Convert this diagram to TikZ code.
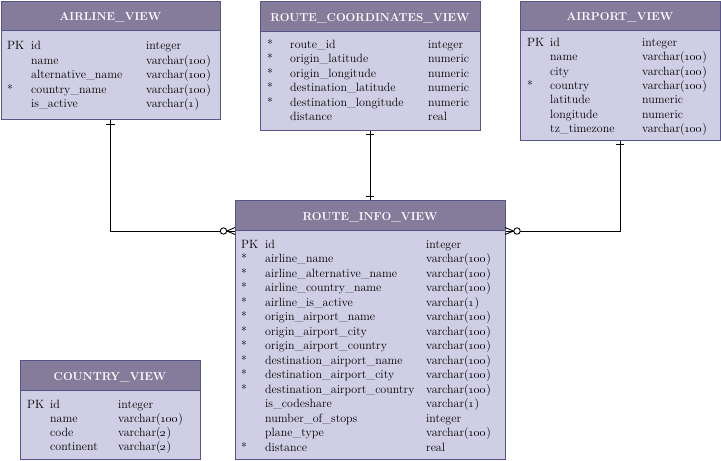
\documentclass[tikz,border=0pt]{standalone}
\usetikzlibrary{fit}
\definecolor{hdrc}{HTML}{857B9B}
\definecolor{bodyc}{HTML}{D0CEE4}
\definecolor{edgec}{HTML}{55558A}
\newcommand\osn[1]{\oldstylenums{#1}}
\tikzset{
 body/.style={draw=edgec, fill=bodyc, line width=0.9pt, inner sep=0pt},
 hdr/.style={draw=edgec, fill=hdrc, line width=0.9pt, inner sep=0pt},
 title/.style={text=white, font=\fontsize{11.5}{12}\selectfont\bfseries, inner sep=0pt, anchor=base},
 cell/.style={font=\fontsize{12}{12}\selectfont, inner sep=0pt, anchor=base west},
 link/.style={draw=black, line width=0.9pt},
}
\newcommand\erbox[8]{%
 \node[body, fit={(#2,#3) (#4,#5)}] (#1) {};
 \node[hdr, fit={(#2,#3) (#4,#6)}] (#1-h) {};
 \node[title] (#1-t) at ({(#2+#4)/2},#8) {#7};
}
\newcommand\errows[7]{%
 \foreach \k/\n/\t [count=\i from 0] in {#7} {
  \node[cell] (#1-k\i) at (#2,{#5+#6*\i}) {\k};
  \node[cell] (#1-n\i) at (#3,{#5+#6*\i}) {\n};
  \node[cell] (#1-t\i) at (#4,{#5+#6*\i}) {\t};
 }
}
\begin{document}
\begin{tikzpicture}[x=1pt,y=-1pt]
\useasboundingbox[fill=white] (0,0) rectangle (721,461);

% connectors
\draw[link] (110.5,119) |- (235,231);
\draw[link] (370,130) -- (370,200);
\draw[link] (620,140) |- (505,231);

\erbox{al}{1}{1}{220}{119}{30}{AIRLINE\_VIEW}{20}
\erbox{rc}{260}{1}{480}{130}{31}{ROUTE\_COORDINATES\_VIEW}{21}
\erbox{ap}{520}{1}{720}{140}{30}{AIRPORT\_VIEW}{20.5}
\erbox{ri}{235}{200}{505}{459}{230}{ROUTE\_INFO\_VIEW}{220}
\erbox{co}{20}{360}{200}{459}{390}{COUNTRY\_VIEW}{380}

% end marks
\draw[link] (106,124.5) -- (115,124.5);
\draw[link] (366,134.5) -- (374,134.5);
\draw[link] (366,196) -- (374,196);
\draw[link] (616,144.5) -- (624,144.5);
\draw[link, fill=white] (223.5,231) circle[radius=3.2pt];
\draw[link] (227,231) -- (235,227.5) (227,231) -- (235,234.5);
\draw[link, fill=white] (517,231) circle[radius=3.2pt];
\draw[link] (513.5,231) -- (505,227.5) (513.5,231) -- (505,234.5);

\errows{al}{7}{31}{146}{49.5}{14.5}{PK/id/integer, {}/name/varchar(\osn{100}), {}/alternative\_name/varchar(\osn{100}), */country\_name/varchar(\osn{100}), {}/is\_active/varchar(\osn{1})}
\errows{rc}{267}{290}{428}{48}{14.5}{*/route\_id/integer, */origin\_latitude/numeric, */origin\_longitude/numeric, */destination\_latitude/numeric, */destination\_longitude/numeric, {}/distance/real}
\errows{ap}{527}{550}{642}{46.5}{14.3}{PK/id/integer, {}/name/varchar(\osn{100}), {}/city/varchar(\osn{100}), */country/varchar(\osn{100}), {}/latitude/numeric, {}/longitude/numeric, {}/tz\_timezone/varchar(\osn{100})}
\errows{ri}{241}{265}{426}{248}{14.5}{PK/id/integer, */airline\_name/varchar(\osn{100}), */airline\_alternative\_name/varchar(\osn{100}), */airline\_country\_name/varchar(\osn{100}), */airline\_is\_active/varchar(\osn{1}), */origin\_airport\_name/varchar(\osn{100}), */origin\_airport\_city/varchar(\osn{100}), */origin\_airport\_country/varchar(\osn{100}), */destination\_airport\_name/varchar(\osn{100}), */destination\_airport\_city/varchar(\osn{100}), */destination\_airport\_country/varchar(\osn{100}), {}/is\_codeshare/varchar(\osn{1}), {}/number\_of\_stops/integer, {}/plane\_type/varchar(\osn{100}), */distance/real}
\errows{co}{27}{50}{118}{408}{14.3}{PK/id/integer, {}/name/varchar(\osn{100}), {}/code/varchar(\osn{2}), {}/continent/varchar(\osn{2})}
\end{tikzpicture}
\end{document}
